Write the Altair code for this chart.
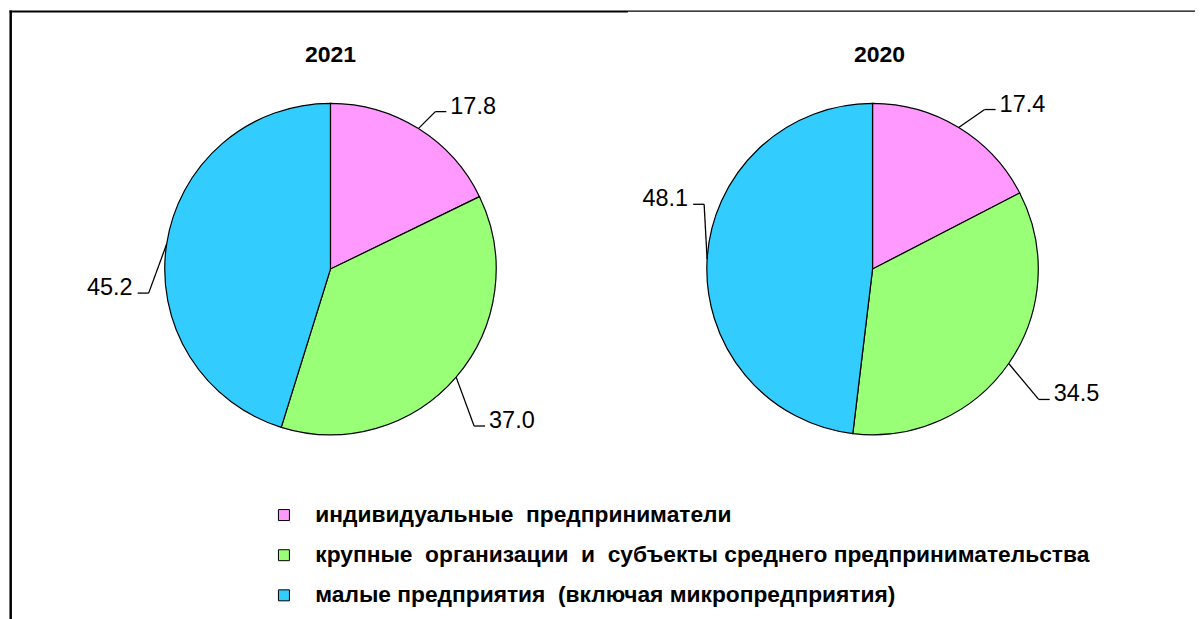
import altair as alt
import pandas as pd

# ---- data ----
categories = [
    "индивидуальные\u00a0 предприниматели",
    "крупные\u00a0 организации\u00a0 и\u00a0 субъекты среднего предпринимательства",
    "малые предприятия\u00a0 (включая микропредприятия)",
]
years = ["2021", "2020"]
values_2021 = [17.8, 37.0, 45.2]
values_2020 = [17.4, 34.5, 48.1]
colors = ["#FF99FF", "#99FF77", "#33CCFF"]

# ---- layout (label nudges: elbow offset from slice edge, px) ----
nudges_2021 = [(17, -17), (18, 49), (-18, 49)]
nudges_2020 = [(26, -18), (30, 36), (-3, -55)]
R = 166
H = 522
FONT = "Liberation Sans"

color_enc = alt.Color(
    "cat:N",
    scale=alt.Scale(domain=categories, range=colors),
    legend=alt.Legend(
        title=None, orient="none", legendX=264, legendY=496,
        symbolType="square", symbolSize=121, symbolStrokeColor="black",
        symbolStrokeWidth=1, labelFont=FONT, labelFontSize=22.8,
        labelFontWeight="bold", labelColor="black", labelOffset=20,
        rowPadding=16.2, labelLimit=1000, padding=0, symbolOpacity=1,
    ),
)


def panel(year, values, nudges, width, title_dx=0, decor=False):
    df = pd.DataFrame({
        "cat": categories,
        "value": values,
        "order": list(range(len(values))),
        "ndx": [n[0] for n in nudges],
        "ndy": [n[1] for n in nudges],
    })
    base = alt.Chart(df)
    xs = alt.Scale(domain=[-width / 2, width / 2])
    ys = alt.Scale(domain=[-H / 2, H / 2])

    arc = base.mark_arc(outerRadius=R, stroke="black", strokeWidth=1.2).encode(
        theta=alt.Theta("value:Q", stack=True),
        color=color_enc,
        order=alt.Order("order:Q"),
    )

    geo = base.transform_joinaggregate(total="sum(value)").transform_window(
        cum="sum(value)", sort=[alt.SortField("order")], frame=[None, 0]
    ).transform_calculate(
        mid="2*PI*(datum.cum - datum.value/2)/datum.total",
        ex=f"{R}*sin(datum.mid)",
        ey=f"{R}*cos(datum.mid)",
        bx="datum.ex + datum.ndx",
        by="datum.ey - datum.ndy",
        side="sin(datum.mid) >= 0 ? 1 : -1",
        cx="datum.bx + 11*datum.side",
        lab="format(datum.value, '.1f')",
    )

    lead1 = geo.mark_rule(color="black", strokeWidth=1.3).encode(
        x=alt.X("ex:Q", scale=xs, axis=None),
        y=alt.Y("ey:Q", scale=ys, axis=None),
        x2="bx:Q", y2="by:Q",
    )
    lead2 = geo.mark_rule(color="black", strokeWidth=1.3).encode(
        x=alt.X("bx:Q", scale=xs, axis=None),
        y=alt.Y("by:Q", scale=ys, axis=None),
        x2="cx:Q", y2="by:Q",
    )
    txt_r = geo.transform_filter("datum.side > 0").mark_text(
        align="left", baseline="alphabetic", dx=4, dy=2,
        font=FONT, fontSize=23.5, color="black",
    ).encode(
        x=alt.X("cx:Q", scale=xs, axis=None),
        y=alt.Y("by:Q", scale=ys, axis=None),
        text="lab:N",
    )
    txt_l = geo.transform_filter("datum.side < 0").mark_text(
        align="right", baseline="alphabetic", dx=-5, dy=2,
        font=FONT, fontSize=23.5, color="black",
    ).encode(
        x=alt.X("cx:Q", scale=xs, axis=None),
        y=alt.Y("by:Q", scale=ys, axis=None),
        text="lab:N",
    )
    title = alt.Chart(pd.DataFrame({"year": [year]})).mark_text(
        align="center", baseline="alphabetic", font=FONT, fontSize=23,
        fontWeight="bold", color="black", dx=title_dx,
    ).encode(
        text="year:N",
        x=alt.value(width / 2),
        y=alt.value(H / 2 - 207),
    )
    layers = [arc, lead1, lead2, txt_r, txt_l, title]
    if decor:
        one = alt.Chart(pd.DataFrame({"k": [0]}))
        layers += [
            one.mark_rule(color="black", strokeWidth=2.5).encode(
                x=alt.value(1.7), x2=alt.value(1.7),
                y=alt.value(2), y2=alt.value(612)),
            one.mark_rule(color="black", strokeWidth=2.2).encode(
                x=alt.value(0.5), x2=alt.value(620),
                y=alt.value(3), y2=alt.value(3)),
            one.mark_rule(color="black", strokeWidth=1.2).encode(
                x=alt.value(620), x2=alt.value(1188),
                y=alt.value(2.6), y2=alt.value(2.6)),
        ]
    return alt.layer(*layers).properties(width=width, height=H)


chart = alt.hconcat(
    panel(years[0], values_2021, nudges_2021, 644, decor=True),
    panel(years[1], values_2020, nudges_2020, 442, title_dx=7),
    spacing=0,
    bounds="flush",
).properties(padding=0).configure_view(stroke=None)

chart.save("out.html", embed_options={"renderer": "svg", "actions": False})
